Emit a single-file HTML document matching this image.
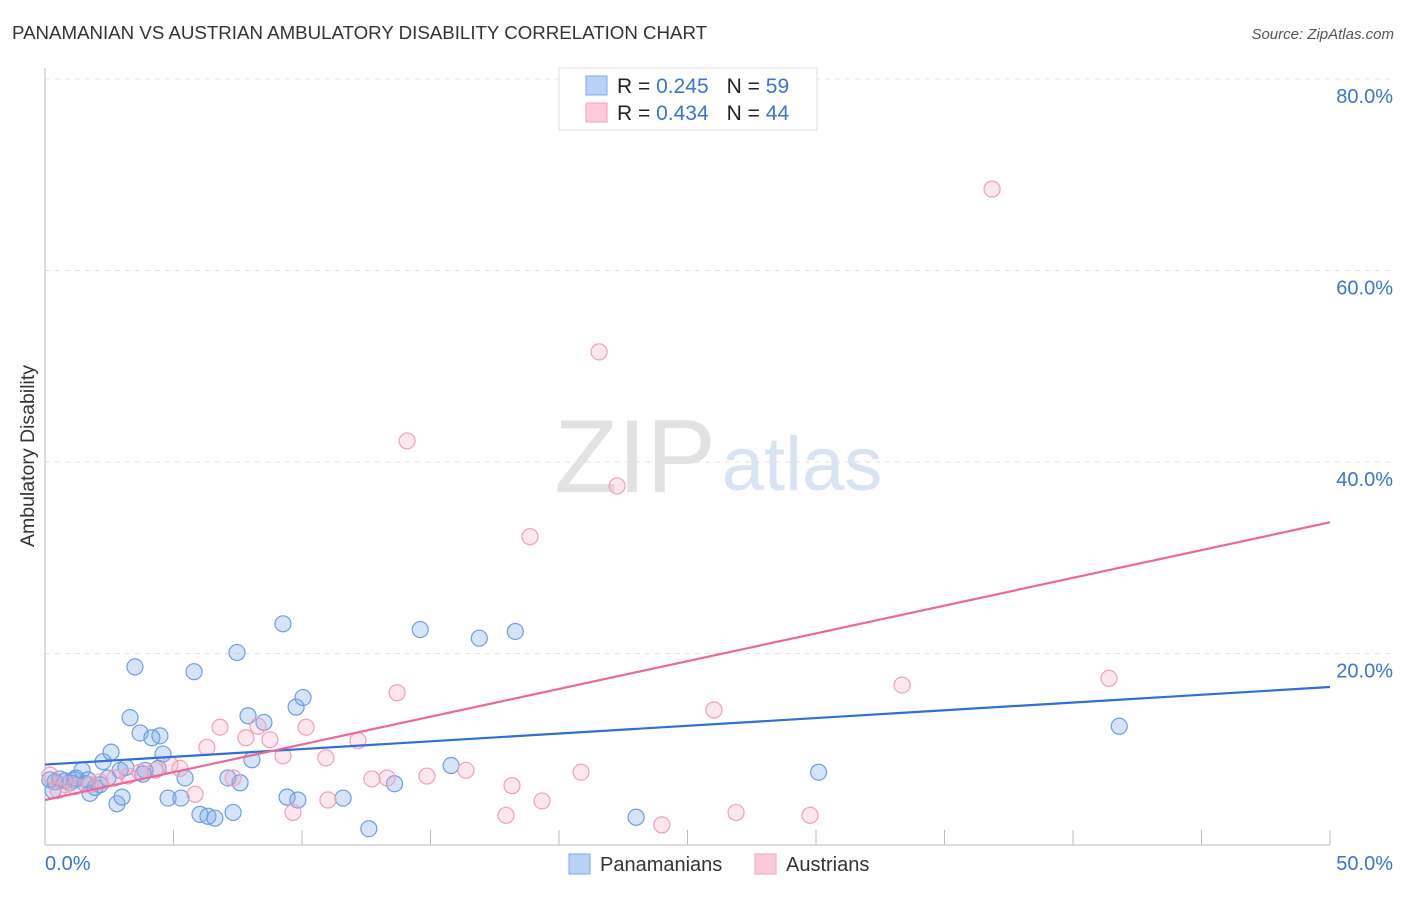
<!DOCTYPE html>
<html><head><meta charset="utf-8"><style>
body{margin:0;background:#fff;font-family:"Liberation Sans",sans-serif}
svg text{font-family:"Liberation Sans",sans-serif}
</style></head><body>
<svg id="chart" width="1406" height="892" xmlns="http://www.w3.org/2000/svg">
<text x="12" y="39" font-size="18.7" fill="#333">PANAMANIAN VS AUSTRIAN AMBULATORY DISABILITY CORRELATION CHART</text>
<text x="1394" y="39" font-size="15" fill="#555" text-anchor="end" font-style="italic">Source: ZipAtlas.com</text>
<text transform="translate(34,456) rotate(-90)" font-size="19.5" fill="#333" text-anchor="middle">Ambulatory Disability</text>
<g>
<text x="635" y="492" font-size="104" fill="#e2e2e2" text-anchor="middle" font-family="Liberation Serif,serif">ZIP</text>
<text x="802" y="490" font-size="76" fill="#d8e4f4" text-anchor="middle">atlas</text>
</g>
<g id="grid"></g><g id="axes"></g><g id="marks"></g><g id="lines"></g>
<g>
<rect x="559" y="68" width="258" height="62" fill="#fff" stroke="#ddd"/>
<rect x="586" y="76" width="21" height="19" fill="#b8d2f6" stroke="#7eaae8"/>
<rect x="586" y="103" width="21" height="19" fill="#fccadb" stroke="#f0a2bc"/>
<text x="617" y="93" font-size="21" fill="#222">R = <tspan fill="#3a74d4">0.245</tspan><tspan dx="18">N = </tspan><tspan fill="#3a74d4">59</tspan></text>
<text x="617" y="120" font-size="21" fill="#222">R = <tspan fill="#3a74d4">0.434</tspan><tspan dx="18">N = </tspan><tspan fill="#3a74d4">44</tspan></text>
</g>
<g>
<rect x="569" y="854" width="21" height="20" fill="#b8d2f6" stroke="#7eaae8"/>
<text x="600" y="871" font-size="20" fill="#333">Panamanians</text>
<rect x="755" y="854" width="21" height="20" fill="#fccadb" stroke="#f0a2bc"/>
<text x="786" y="871" font-size="20" fill="#333">Austrians</text>
</g>
</svg>
<script>
const yTicks=[20,40,60,80];
const yTickLabels=["20.0%","40.0%","60.0%","80.0%"];
const xTicks=[0,5,10,15,20,25,30,35,40,45,50];
const blueX=[0.19,0.39,0.58,0.78,0.97,1.17,1.44,1.67,1.75,1.95,2.26,2.45,2.57,2.80,3.0,3.15,3.31,3.50,3.70,3.81,4.16,4.40,4.47,4.59,4.79,5.29,5.45,5.80,6.03,6.34,6.61,7.12,7.32,7.47,7.59,7.90,8.05,8.52,9.26,9.42,9.77,9.84,10.04,11.6,12.6,13.6,14.6,15.8,16.9,18.3,23.0,30.1,41.8,2.14,1.56,2.92,3.89,0.31,1.2];
const blueY=[6.8,6.6,6.9,6.7,6.5,6.8,7.8,6.8,5.4,6.0,8.7,7.0,9.7,4.3,5.0,8.1,13.3,18.6,11.7,7.4,11.2,8.0,11.4,9.5,4.9,4.9,7.0,18.1,3.2,3.0,2.8,7.0,3.4,20.1,6.5,13.5,8.9,12.8,23.1,5.0,14.4,4.7,15.4,4.9,1.7,6.4,22.5,8.3,21.6,22.3,2.9,7.6,12.4,6.3,6.4,7.8,7.8,5.7,7.0];
const pinkX=[0.19,0.51,0.78,1.17,1.75,2.14,2.72,3.23,3.70,4.28,4.86,5.25,5.84,6.30,6.81,7.32,7.82,8.29,8.75,9.26,9.65,10.16,10.93,11.01,12.18,12.72,13.31,13.70,14.09,14.86,16.38,17.94,18.17,18.87,19.34,20.86,21.56,22.26,24.0,26.03,26.89,29.77,33.35,36.85,41.4];
const pinkY=[7.3,5.7,6.3,6.1,6.3,6.6,7.0,7.2,7.6,7.8,8.4,8.0,5.3,10.2,12.3,7.0,11.2,12.4,11.0,9.3,3.4,12.3,9.1,4.7,10.9,6.9,7.0,15.9,42.2,7.2,7.8,3.1,6.2,32.2,4.6,7.6,51.5,37.5,2.1,14.1,3.4,3.1,16.7,68.5,17.4];
const blueTrend=[8.4,16.5];
const pinkTrend=[4.7,33.7];
const NS="http://www.w3.org/2000/svg";
const sx=v=>45+v/50*1285, sy=v=>845-v/20*191.5;
function mk(p,t,a){const e=document.createElementNS(NS,t);for(const k in a)e.setAttribute(k,a[k]);document.getElementById(p).appendChild(e);return e;}
yTicks.forEach((t,i)=>{
 const g=mk('grid','line',{x1:45,x2:1394,y1:sy(t),y2:sy(t),stroke:'#e2e2e2','stroke-dasharray':'5,5'});
 
 
 const l=mk('axes','text',{x:1393,y:sy(t)+24,'font-size':20,fill:'#3a74d4','text-anchor':'end'});l.textContent=yTickLabels[i];
 
 
});
const ax=mk('axes','line',{x1:45,x2:45,y1:68,y2:845,stroke:'#bbb'});


const bx=mk('axes','line',{x1:45,x2:1330,y1:845,y2:845,stroke:'#bbb'});


xTicks.forEach(t=>{const e=mk('axes','line',{x1:sx(t),x2:sx(t),y1:830,y2:845,stroke:'#bbb'});
 
 });
const x0=mk('axes','text',{x:45,y:870,'font-size':20,fill:'#3a74d4'});x0.textContent='0.0%';


const x1=mk('axes','text',{x:1393,y:870,'font-size':20,fill:'#3a74d4','text-anchor':'end'});x1.textContent='50.0%';


blueX.forEach((x,i)=>{const c=mk('marks','circle',{cx:sx(x),cy:sy(blueY[i]),r:8,fill:'rgba(120,165,235,0.3)',stroke:'#6c9ee0','stroke-width':1.2});
 
 });
pinkX.forEach((x,i)=>{const c=mk('marks','circle',{cx:sx(x),cy:sy(pinkY[i]),r:8,fill:'rgba(245,160,190,0.25)',stroke:'#f0a0ba','stroke-width':1.2});
 
 });
const tb=mk('lines','line',{x1:sx(0),x2:sx(50),y1:sy(blueTrend[0]),y2:sy(blueTrend[1]),stroke:'#2f6fd6','stroke-width':2.2});


const tp=mk('lines','line',{x1:sx(0),x2:sx(50),y1:sy(pinkTrend[0]),y2:sy(pinkTrend[1]),stroke:'#e8699a','stroke-width':2.2});


</script>
</body></html>
